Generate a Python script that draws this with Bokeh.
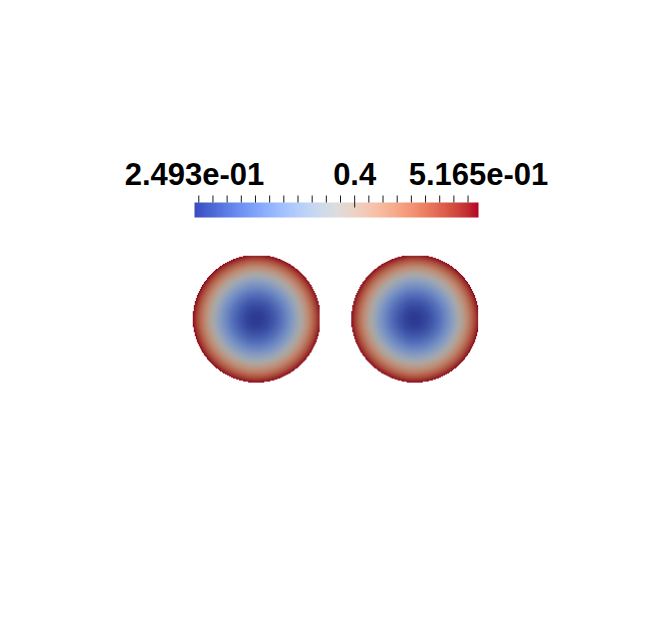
import numpy as np
from bokeh.plotting import figure
from bokeh.models import Range1d, LinearColorMapper
from bokeh.core.properties import value
from bokeh.embed import file_html
from bokeh.resources import INLINE

# ---------------- data ----------------
v_min = 0.2493
v_max = 0.5165
label_values = [0.2493, 0.4, 0.5165]
label_texts = ["2.493e-01", "0.4", "5.165e-01"]
major_ticks = [0.4]
minor_step = 0.04 / 3
minor_range = (-11, 8)

disc_x = [0.0, 2.5]
disc_y = [0.0, 0.0]
disc_radius = 1.0
# radial profile of the field (r / R -> value)
profile_r = [0.0, 0.1, 0.2, 0.3, 0.4, 0.5, 0.6, 0.7, 0.8, 0.9, 1.0]
profile_v = [0.2493, 0.2530, 0.2629, 0.2782, 0.2985, 0.3233, 0.3530, 0.3874, 0.4262, 0.4692, 0.5165]

# ---------------- palette (Cool to Warm) ----------------
cw = [(59,76,192),(68,90,204),(77,104,215),(87,117,225),(98,130,234),(108,142,241),
      (119,154,247),(130,165,251),(141,176,254),(152,185,255),(163,194,255),(174,201,253),
      (184,208,249),(194,213,244),(204,217,238),(213,219,230),(221,221,221),(229,216,209),
      (236,211,197),(241,204,185),(245,196,173),(247,187,160),(247,177,148),(247,166,135),
      (244,154,123),(241,141,111),(236,127,99),(229,112,89),(222,96,77),(213,80,66),
      (203,62,56),(192,40,47),(180,4,38)]
cw = np.array(cw, dtype=float)
pos = np.linspace(0, 1, len(cw))
t = np.linspace(0, 1, 256)
rgb = np.stack([np.interp(t, pos, cw[:, i]) for i in range(3)], axis=1)

def to_hex(a):
    return ["#%02x%02x%02x" % tuple(int(round(c)) for c in row) for row in a]

pal_bar = to_hex(rgb)
pal_lit = to_hex(np.clip(rgb * 0.76, 0, 255))

# ---------------- figure ----------------
W, H = 654, 622
scale = 63.4
c1_px = (255.7, 318.7)   # disc 1 centre, pixels from figure top-left
x0 = disc_x[0] - c1_px[0] / scale
y1 = disc_y[0] + c1_px[1] / scale

p = figure(width=W, height=H, output_backend="svg", toolbar_location=None,
           x_range=Range1d(x0, x0 + W / scale), y_range=Range1d(y1 - H / scale, y1),
           min_border=0, min_border_left=0, min_border_right=0,
           min_border_top=0, min_border_bottom=0)
p.axis.visible = False
p.grid.visible = False
p.outline_line_color = None
p.background_fill_color = "white"
p.border_fill_color = "white"

# colour-bar ranges: value along x, pixels (upwards) along y
bar_left, bar_w = 194.0, 284.0
per_px = (v_max - v_min) / bar_w
cb_start = v_min - bar_left * per_px
p.extra_x_ranges = {"cb": Range1d(cb_start, cb_start + W * per_px)}
p.extra_y_ranges = {"px": Range1d(0, H)}

# ---------------- discs ----------------
N = 128
g = (np.arange(N) + 0.5) / N * 2 - 1
gx, gy = np.meshgrid(g, g)
rr = np.sqrt(gx ** 2 + gy ** 2)
field = np.interp(rr, profile_r, profile_v)
field[rr > 1.0] = np.nan

lit_mapper = LinearColorMapper(palette=pal_lit, low=v_min, high=v_max, nan_color="rgba(0,0,0,0)")
for cx, cy in zip(disc_x, disc_y):
    p.image(image=[field], x=cx - disc_radius, y=cy - disc_radius,
            dw=2 * disc_radius, dh=2 * disc_radius, color_mapper=lit_mapper)

# ---------------- colour bar ----------------
bar_mapper = LinearColorMapper(palette=pal_bar, low=v_min, high=v_max)
bar_vals = np.linspace(v_min, v_max, 256).reshape(1, -1)
bar_top, bar_bot = H - 202.0, H - 217.0
p.image(image=[bar_vals], x=v_min, y=bar_bot, dw=v_max - v_min, dh=bar_top - bar_bot,
        color_mapper=bar_mapper, x_range_name="cb", y_range_name="px")

minor_ticks = [0.4 + k * minor_step for k in range(minor_range[0], minor_range[1] + 1) if k != 0]
tick_top = H - 195.0
p.segment(x0=minor_ticks, y0=[tick_top] * len(minor_ticks), x1=minor_ticks,
          y1=[bar_top] * len(minor_ticks), line_color="#1a1a1a", line_width=1,
          x_range_name="cb", y_range_name="px")
p.segment(x0=major_ticks, y0=[tick_top] * len(major_ticks), x1=major_ticks,
          y1=[H - 207.0] * len(major_ticks), line_color="#1a1a1a", line_width=1,
          x_range_name="cb", y_range_name="px")

p.text(x=label_values, y=[H - 173.0] * len(label_values), text=label_texts,
       text_font=value("Liberation Sans"), text_font_style="bold",
       text_font_size="31px", text_color="black", text_align="center",
       text_baseline="alphabetic", x_range_name="cb", y_range_name="px")

open("out.html", "w").write(file_html(p, INLINE))
